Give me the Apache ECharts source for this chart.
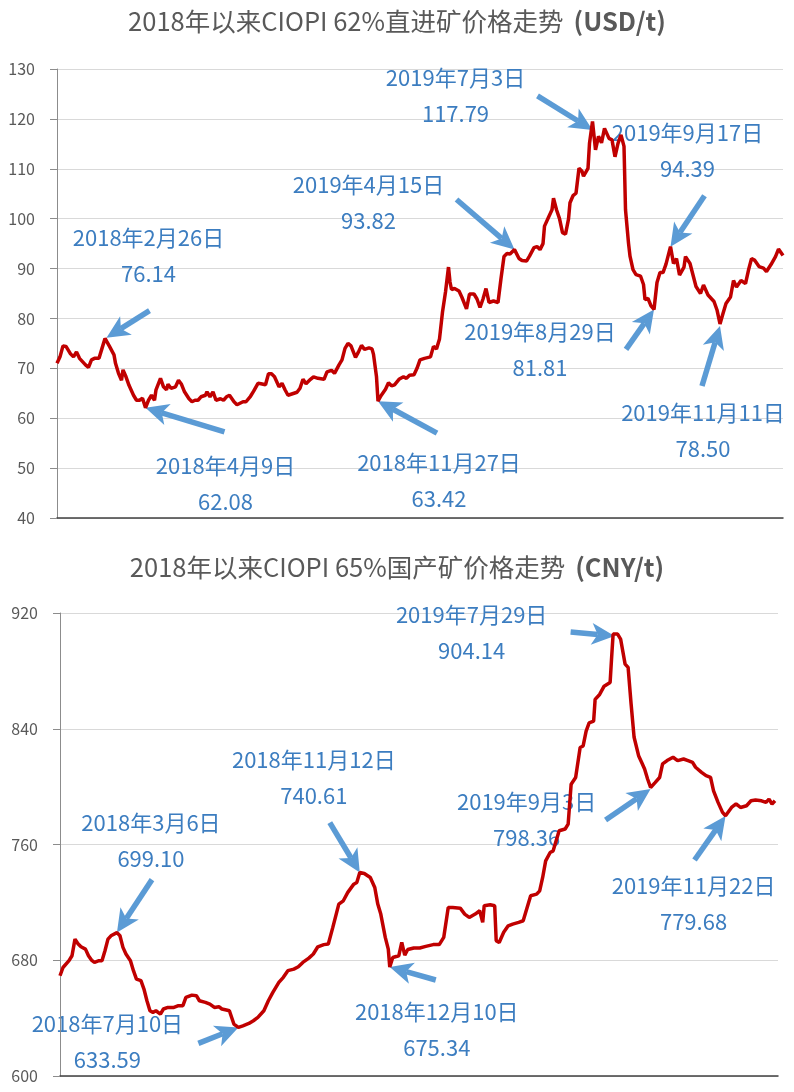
<!DOCTYPE html>
<html><head><meta charset="utf-8">
<script src="https://cdn.jsdelivr.net/npm/echarts@6/dist/echarts.min.js"></script>
<style>html,body{margin:0;padding:0;background:#fff}#c{width:794px;height:1092px}</style>
</head><body><div id="c"></div>
<script>
// ---- Data: CIOPI 62% imported ore (USD/t), x = trading-day index since 2018-01-02
const usdDay = [0,2,4,6,9,11,13,15,16,19,21,23,25,28,30,32,33,35,38,39,41,43,44,46,48,49,51,53,55,57,59,61,63,65,66,69,71,73,74,76,79,81,83,85,88,90,92,94,96,99,100,102,104,106,109,111,113,115,118,120,122,124,126,129,131,134,136,139,141,143,145,148,150,152,154,156,160,162,164,166,169,171,174,178,180,183,185,188,190,192,194,196,199,201,203,205,208,210,211,213,214,216,219,221,223,225,228,231,233,235,238,240,242,245,249,251,253,255,257,259,261,262,263,265,268,270,273,275,278,280,282,284,286,288,291,294,296,298,300,302,305,308,310,313,315,318,320,322,324,325,328,330,331,333,335,337,339,341,342,344,346,348,350,351,354,355,357,359,361,363,365,368,370,372,374,376,378,379,381,382,384,386,389,391,392,394,396,398,400,402,404,406,409,411,413,415,418,419,422,424,426,429,431,434,438,440,442,444,446,449,451,453,456,459,461,463,465,468,471,473,476,479,481,484];
const usdPrice = [71.0,72.3,74.5,74.4,72.9,72.3,73.3,72.0,71.7,70.7,70.2,71.7,72.0,72.0,74.0,76.0,76.1,74.4,72.7,71.0,69.0,67.6,69.7,68.3,66.6,66.8,64.6,63.6,63.6,64.0,62.1,63.6,64.6,63.6,65.7,68.0,66.3,65.7,66.8,66.0,66.3,67.6,66.8,65.3,63.9,63.3,63.6,63.6,64.3,64.6,65.3,64.3,65.3,63.6,63.9,63.6,64.3,64.6,63.3,62.7,63.0,63.3,63.3,64.4,65.4,67.0,66.9,66.7,68.9,68.9,68.3,66.3,67.0,65.7,64.6,64.8,65.2,66.0,67.8,66.9,67.8,68.3,68.0,67.8,69.3,69.6,69.0,70.7,71.7,74.0,75.0,74.5,72.2,73.3,74.6,73.8,74.1,73.9,72.8,68.3,63.4,64.5,65.8,67.1,66.5,66.7,67.8,68.3,68.0,68.6,68.7,70.0,71.7,72.0,72.3,74.4,73.9,75.9,81.3,85.3,90.3,87.3,85.8,86.0,85.5,84.2,81.9,84.9,84.9,83.9,82.2,83.9,86.0,83.2,83.5,83.2,88.0,92.4,93.0,92.9,93.8,92.0,91.6,91.5,92.5,94.2,94.4,93.8,95.0,98.5,100.5,101.8,104.1,101.8,100.0,97.2,96.9,99.9,103.2,104.6,105.1,110.1,109.5,108.5,110.1,115.1,119.5,113.8,116.5,115.2,118.1,116.1,115.8,112.4,115.1,116.8,114.5,101.8,95.1,92.5,89.8,88.8,88.5,86.8,83.8,84.0,82.5,81.8,87.2,89.2,89.2,90.9,94.4,91.0,92.0,88.7,90.3,92.4,91.0,88.7,86.4,85.0,86.7,84.7,83.4,81.7,78.9,81.0,83.0,84.3,87.6,86.3,87.6,87.0,89.7,92.0,91.7,90.4,90.1,89.4,90.8,92.4,93.9,92.6];

// ---- Data: CIOPI 65% domestic ore (CNY/t)
const cnyDay = [0,2,6,8,10,12,14,17,19,21,23,26,28,30,32,34,38,40,42,44,47,49,51,54,56,58,60,62,64,67,69,72,76,79,82,84,88,91,93,97,100,103,106,108,111,113,116,119,122,126,129,132,136,139,142,146,149,152,156,159,162,166,169,172,176,179,182,186,189,192,196,198,200,203,207,210,212,214,217,219,220,222,226,228,230,232,236,240,244,249,253,256,259,262,267,270,273,277,280,282,283,287,290,291,293,296,299,302,306,309,311,314,318,320,322,324,327,329,331,333,337,339,341,344,347,349,351,353,356,357,360,363,367,368,369,372,374,377,379,381,383,386,388,390,392,394,397,400,402,405,409,412,416,419,422,424,428,431,434,436,439,442,444,448,451,454,458,461,464,468,471,473,475,477];
const cnyPrice = [669.3,675.0,679.7,683.1,694.6,691.4,689.3,687.7,683.1,680.1,678.5,679.7,679.7,686.6,694.6,696.9,699.1,696.9,688.9,684.3,679.7,672.8,667.0,665.9,660.1,652.0,645.1,644.0,645.1,642.8,646.3,647.4,647.4,648.6,648.6,654.3,655.9,655.5,652.0,650.9,649.7,647.4,647.9,646.3,645.6,645.1,635.9,633.6,634.7,636.3,638.2,640.5,645.1,652.0,657.8,664.7,668.2,672.8,673.9,675.5,678.5,681.5,684.3,689.3,690.8,691.2,702.7,718.8,721.1,726.9,732.6,733.8,740.6,740.0,737.2,730.3,718.8,711.9,695.8,687.7,675.3,681.9,683.1,692.3,683.5,687.4,688.5,688.5,689.6,690.8,690.8,695.8,716.5,716.5,716.0,711.9,709.6,711.9,714.2,706.2,717.7,718.4,717.7,693.5,692.3,699.3,703.8,705.0,706.2,707.3,714.2,724.6,725.7,728.0,737.2,748.7,754.5,755.6,762.6,769.5,770.7,774.1,801.7,806.3,827.0,828.1,838.4,844.1,845.3,860.3,863.7,869.4,872.0,889.2,905.4,905.4,902.0,884.7,882.4,857.1,834.1,821.4,816.8,812.2,805.3,799.4,802.8,806.3,815.7,818.0,820.3,818.0,819.1,818.0,816.8,813.4,809.9,807.6,806.4,797.1,789.1,782.2,779.9,785.6,788.0,785.6,786.8,790.2,790.7,790.2,789.1,791.4,788.0,790.2];

// ---- Annotations (date text, value text, trading-day index)
const usdNoteDate = ['2018年2月26日','2018年4月9日','2018年11月27日','2019年4月15日','2019年7月3日','2019年9月17日','2019年8月29日','2019年11月11日'];
const usdNoteValue = ['76.14','62.08','63.42','93.82','117.79','94.39','81.81','78.50'];
const usdNoteDay = [33,59,214,305,357,409,398,442];

const cnyNoteDate = ['2018年3月6日','2018年7月10日','2018年11月12日','2018年12月10日','2019年7月29日','2019年9月3日','2019年11月22日'];
const cnyNoteValue = ['699.10','633.59','740.61','675.34','904.14','798.36','779.68'];
const cnyNoteDay = [38,119,200,220,370,394,444];

// ---- Layout of annotations (pixel offsets from the annotated point): [tailDx, tailDy, textDx, textDy]
const usdNoteLayout = [[43,-27,42,-100],[79,24,80,58],[59,32,61,61],[-58,-50,-146,-65],[-55,-34,-137,-52],[34,-51,17,-114],[-28,40,-114,22],[-18,60,-17,87]];
const cnyNoteLayout = [[35,-53,34,-110],[-40,16,-131,-4],[-30,-50,-46,-113],[46,13,47,45],[-44,-4,-143,-21],[-45,31,-124,13],[-31,44,-32,70]];

const FONT = "'Noto Sans CJK SC','Noto Sans',sans-serif";
const GREY = '#595959';

const chart = echarts.init(document.getElementById('c'));

function yAxis(grid, min, max, interval) {
  return {
    type: 'value', gridIndex: grid, min: min, max: max, interval: interval,
    axisLine: { show: true, lineStyle: { color: '#8c8c8c', width: 1 } },
    axisTick: { show: true, length: 7, lineStyle: { color: '#8c8c8c' } },
    axisLabel: { fontSize: 16, color: GREY, margin: 22, fontFamily: FONT },
    splitLine: { lineStyle: { color: '#d9d9d9', width: 1 } }
  };
}
function xAxis(grid, max) {
  return {
    type: 'value', gridIndex: grid, min: 0, max: max,
    axisLine: { show: true, onZero: false, lineStyle: { color: '#404040', width: 1.5 } },
    axisTick: { show: false }, axisLabel: { show: false }, splitLine: { show: false }
  };
}
function title(main, unit, top) {
  return {
    text: '{n|' + main + '}  {b|' + unit + '}', left: 'center', top: top,
    textStyle: { fontWeight: 'normal', rich: {
      n: { fontSize: 25.5, color: GREY, fontWeight: 'normal', fontFamily: FONT },
      b: { fontSize: 25.5, color: GREY, fontWeight: 'bold', fontFamily: FONT }
    } }
  };
}

chart.setOption({
  animation: false,
  title: [title('2018年以来CIOPI 62%直进矿价格走势', '(USD/t)', 4),
          title('2018年以来CIOPI 65%国产矿价格走势', '(CNY/t)', 550)],
  grid: [{ left: 57, width: 726, top: 69, height: 449 },
         { left: 60, width: 718, top: 613, height: 463 }],
  xAxis: [xAxis(0, 484), xAxis(1, 479)],
  yAxis: [yAxis(0, 40, 130, 10), yAxis(1, 600, 920, 80)],
  series: [
    { type: 'line', xAxisIndex: 0, yAxisIndex: 0, z: 3, showSymbol: false, symbol: 'none',
      data: usdDay.map((d, i) => [d, usdPrice[i]]),
      lineStyle: { color: '#C00000', width: 3.5 } },
    { type: 'line', xAxisIndex: 1, yAxisIndex: 1, z: 3, showSymbol: false, symbol: 'none',
      data: cnyDay.map((d, i) => [d, cnyPrice[i]]),
      lineStyle: { color: '#C00000', width: 3.5 } }
  ]
});

const ARROW = '#5B9BD5';
const TEXT = '#3C7DC0';
function arrowEls(tip, tail) {
  const dx = tip[0] - tail[0], dy = tip[1] - tail[1];
  const len = Math.hypot(dx, dy), ux = dx / len, uy = dy / len, px = -uy, py = ux;
  const headL = 23, headW = 11, notch = 6;
  const bx = tip[0] - ux * headL, by = tip[1] - uy * headL;
  const nx = tip[0] - ux * (headL - notch), ny = tip[1] - uy * (headL - notch);
  return [
    { type: 'line', z: 1, shape: { x1: tail[0], y1: tail[1], x2: nx, y2: ny },
      style: { stroke: ARROW, lineWidth: 5.5, lineCap: 'butt' } },
    { type: 'polygon', z: 1, shape: { points: [tip, [bx + px * headW, by + py * headW], [nx, ny], [bx - px * headW, by - py * headW]] },
      style: { fill: ARROW } }
  ];
}
function textEl(x, y, s) {
  return { type: 'text', z: 0, x: x, y: y,
    style: { text: s, fontSize: 22, fontFamily: FONT, fill: TEXT, textAlign: 'center', textVerticalAlign: 'middle',
             align: 'center', verticalAlign: 'middle' } };
}
function notes(series, dates, values, days, layout) {
  const els = [];
  dates.forEach((d, i) => {
    const p = chart.convertToPixel({ seriesIndex: series }, [days[i], parseFloat(values[i])]);
    const L = layout[i];
    els.push(...arrowEls(p, [p[0] + L[0], p[1] + L[1]]));
    els.push(textEl(p[0] + L[2], p[1] + L[3], d));
    els.push(textEl(p[0] + L[2], p[1] + L[3] + 36, values[i]));
  });
  return els;
}
chart.setOption({ graphic: { elements: [
  ...notes(0, usdNoteDate, usdNoteValue, usdNoteDay, usdNoteLayout),
  ...notes(1, cnyNoteDate, cnyNoteValue, cnyNoteDay, cnyNoteLayout)
] } });
</script></body></html>
